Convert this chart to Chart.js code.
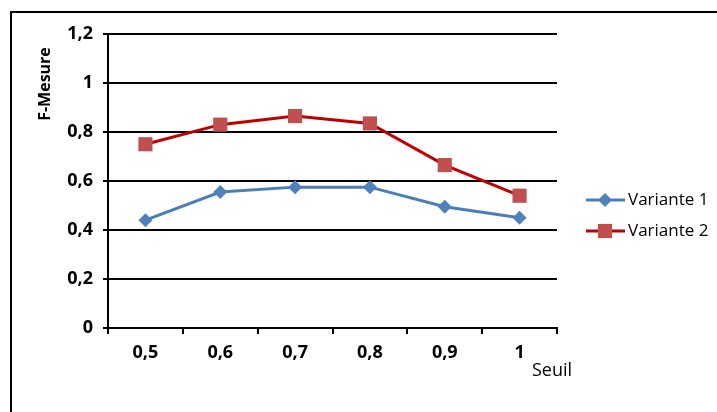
<!DOCTYPE html>
<html>
<head>
<meta charset="utf-8">
<script src="https://cdn.jsdelivr.net/npm/chart.js@4/dist/chart.umd.min.js"></script>
<style>
  html, body { margin: 0; padding: 0; background: #fff; }
  #wrap { position: relative; width: 717px; height: 412px; }
</style>
</head>
<body>
<div id="wrap"><canvas id="c" width="717" height="412"></canvas></div>
<script>
// Threshold values (x categories)
const seuils = ['0,5', '0,6', '0,7', '0,8', '0,9', '1'];
// F-measure per threshold
const variante1 = [0.44, 0.555, 0.575, 0.575, 0.495, 0.45];
const variante2 = [0.75, 0.83, 0.865, 0.835, 0.665, 0.54];
// Y axis tick labels (French decimal comma)
const yTickLabels = ['0', '0,2', '0,4', '0,6', '0,8', '1', '1,2'];

const seriesNames = ['Variante 1', 'Variante 2'];
const yTitle = 'F-Mesure';
const xTitle = 'Seuil';

const textFamily = '"Open Sans", "DejaVu Sans", sans-serif';
const tickFont = { family: textFamily, size: 18, weight: 'bold' };

// Frame, axis titles and legend
const decor = {
  id: 'decor',
  beforeDraw(chart) {
    const ctx = chart.ctx;
    ctx.save();
    ctx.fillStyle = '#ffffff';
    ctx.fillRect(0, 0, chart.width, chart.height);
    ctx.strokeStyle = '#000';
    ctx.lineWidth = 2;
    ctx.beginPath();
    ctx.moveTo(11, 412);
    ctx.lineTo(11, 12);
    ctx.lineTo(717, 12);
    ctx.stroke();
    ctx.restore();
  },
  afterDraw(chart) {
    const ctx = chart.ctx;
    ctx.save();
    // Y title
    ctx.fillStyle = '#000';
    ctx.font = 'bold 16px ' + textFamily;
    ctx.translate(45, 84);
    ctx.rotate(-Math.PI / 2);
    ctx.textAlign = 'center';
    ctx.textBaseline = 'middle';
    ctx.fillText(yTitle, 0, 0);
    ctx.restore();

    ctx.save();
    ctx.fillStyle = '#000';
    ctx.font = '18px ' + textFamily;
    ctx.textAlign = 'left';
    ctx.textBaseline = 'middle';
    ctx.fillText(xTitle, 532, 371);

    // Legend
    const ys = [200, 231];
    chart.data.datasets.forEach((ds, i) => {
      const y = ys[i];
      ctx.strokeStyle = ds.borderColor;
      ctx.lineWidth = 3;
      ctx.beginPath();
      ctx.moveTo(586, y);
      ctx.lineTo(625, y);
      ctx.stroke();
      ctx.fillStyle = ds.pointBackgroundColor;
      ctx.beginPath();
      if (ds.pointStyle === 'rect') {
        const s = Math.SQRT1_2 * ds.pointRadius;
        ctx.rect(605 - s, y - s, 2 * s, 2 * s);
      } else {
        const r = ds.pointRadius;
        ctx.moveTo(605 - r, y); ctx.lineTo(605, y - r);
        ctx.lineTo(605 + r, y); ctx.lineTo(605, y + r);
        ctx.closePath();
      }
      ctx.fill();
      ctx.fillStyle = '#000';
      ctx.font = '17px ' + textFamily;
      ctx.fillText(ds.label, 628, y);
    });
    ctx.restore();
  }
};

new Chart(document.getElementById('c'), {
  type: 'line',
  data: {
    labels: seuils,
    datasets: [
      {
        label: seriesNames[0],
        data: variante1,
        borderColor: '#4A7EBB',
        backgroundColor: '#4F81BD',
        pointBackgroundColor: '#4F81BD',
        pointBorderColor: '#4F81BD',
        pointBorderWidth: 0,
        pointStyle: 'rectRot',
        pointRadius: 7,
        borderWidth: 3,
        tension: 0
      },
      {
        label: seriesNames[1],
        data: variante2,
        borderColor: '#C00000',
        backgroundColor: '#C0504D',
        pointBackgroundColor: '#C0504D',
        pointBorderColor: '#C0504D',
        pointBorderWidth: 0,
        pointStyle: 'rect',
        pointRadius: 10,
        borderWidth: 3,
        tension: 0
      }
    ]
  },
  options: {
    responsive: false,
    animation: false,
    devicePixelRatio: 1,
    layout: { padding: { left: 0, top: 34, right: 160, bottom: 0 } },
    plugins: {
      legend: { display: false },
      tooltip: { enabled: false }
    },
    scales: {
      x: {
        offset: true,
        afterFit(scale) { scale.height = 84; },
        grid: {
          offset: true,
          drawOnChartArea: false,
          drawTicks: true,
          tickLength: 6,
          color: '#000',
          lineWidth: 2
        },
        border: { display: true, color: '#000', width: 2 },
        ticks: { color: '#000', font: tickFont, padding: 8, maxRotation: 0 }
      },
      y: {
        min: 0,
        max: 1.2,
        afterFit(scale) { scale.width = 108; },
        ticks: {
          stepSize: 0.2,
          color: '#000',
          font: tickFont,
          padding: 10,
          callback: (v, i) => yTickLabels[i]
        },
        grid: {
          color: '#000',
          lineWidth: 2,
          tickLength: 5,
          drawTicks: true
        },
        border: { display: true, color: '#000', width: 2 }
      }
    }
  },
  plugins: [decor]
});
</script>
</body>
</html>
